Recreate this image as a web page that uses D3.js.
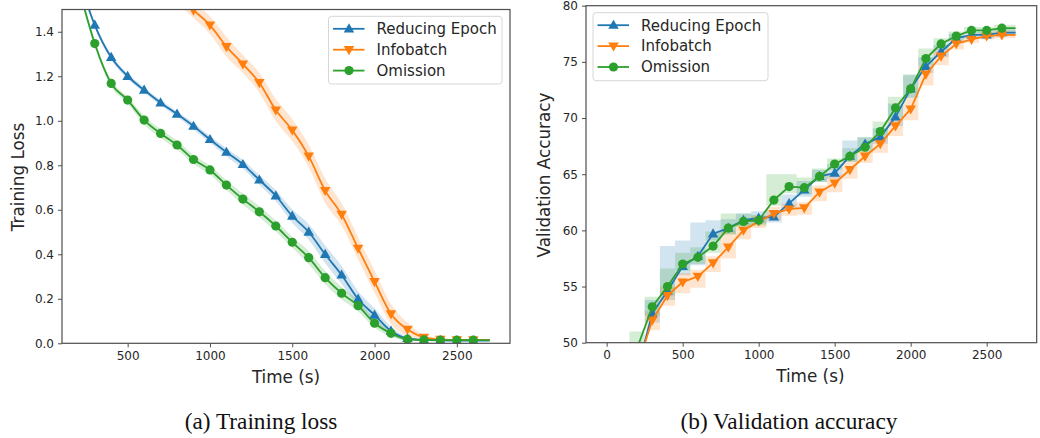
<!DOCTYPE html>
<html><head><meta charset="utf-8">
<script src="https://cdn.jsdelivr.net/npm/d3@7"></script>
<style>body{margin:0;background:#fff}svg{display:block}</style>
</head><body>
<svg id="c" width="1040" height="438"></svg>
<script>
// ---------- Data ----------
const seriesNames = ["Reducing Epoch", "Infobatch", "Omission"];
const seriesColors = ["#1f77b4", "#ff7f0e", "#2ca02c"];

// Training loss
const lossTimes = [220,300,400,500,600,700,800,900,1000,1100,1200,1300,1400,1500,1600,1700,1800,1900,2000,2100,2200,2300,2400,2500,2600,2700];
const lossReducing = [1.60,1.43,1.285,1.20,1.138,1.081,1.030,0.976,0.916,0.859,0.804,0.734,0.663,0.572,0.500,0.400,0.307,0.199,0.127,0.055,0.022,0.015,0.013,0.012,0.012,0.012];
const lossInfobatch = [2.25,2.10,1.96,1.84,1.74,1.65,1.57,1.497,1.43,1.333,1.255,1.171,1.048,0.958,0.841,0.686,0.579,0.427,0.277,0.132,0.063,0.027,0.018,0.015,0.015,0.015];
const lossOmission = [1.55,1.347,1.168,1.093,1.003,0.943,0.891,0.826,0.779,0.711,0.648,0.591,0.527,0.454,0.385,0.295,0.225,0.169,0.090,0.045,0.018,0.015,0.014,0.014,0.014,0.014];
const lossStdReducing = [0.01,0.01,0.012,0.012,0.012,0.012,0.012,0.015,0.015,0.018,0.02,0.022,0.025,0.03,0.035,0.04,0.04,0.035,0.03,0.02,0.008,0.004,0.003,0.003,0.003,0.003];
const lossStdInfobatch = [0.04,0.04,0.04,0.04,0.04,0.04,0.04,0.035,0.04,0.045,0.04,0.045,0.05,0.05,0.05,0.055,0.05,0.05,0.05,0.045,0.03,0.01,0.005,0.004,0.004,0.004];
const lossStdOmission = [0.015,0.015,0.015,0.015,0.02,0.02,0.02,0.02,0.02,0.022,0.025,0.025,0.025,0.025,0.03,0.03,0.028,0.025,0.02,0.015,0.006,0.004,0.003,0.003,0.003,0.003];

// Validation accuracy
const accTimes = [0,100,200,300,400,500,600,700,800,900,1000,1100,1200,1300,1400,1500,1600,1700,1800,1900,2000,2100,2200,2300,2400,2500,2600,2690];
const accReducing = [10,35,47.5,52.6,54.6,56.8,57.7,59.7,60.2,60.9,61.1,61.2,62.4,63.6,64.8,65.1,66.6,67.7,68.3,70.1,72.6,74.6,75.9,77.1,77.4,77.4,77.6,77.6];
const accInfobatch = [10,34,47.8,52.0,54.2,55.4,55.9,57.1,58.5,60.0,60.8,61.5,61.9,62.0,63.4,64.2,65.4,66.6,67.7,69.3,70.8,73.9,75.5,76.6,77.0,77.3,77.4,77.4];
const accOmission = [10,36,49.5,53.2,55.0,57.0,57.6,58.6,60.2,60.8,60.9,62.7,63.9,63.8,64.8,65.9,66.6,67.4,68.8,70.9,72.6,75.3,76.6,77.3,77.8,77.8,78.0,78.0];
const accUpReducing = [1,1,1.5,1.2,4.0,2.3,3.0,1.2,0.8,0.6,0.6,0.6,0.8,0.8,0.6,0.8,1.4,0.6,0.8,1.2,1.2,0.8,0.6,0.4,0.3,0.3,0.3,0.3];
const accDownReducing = [1,1,1.5,0.8,0.8,0.8,0.8,0.6,0.5,0.5,0.5,0.5,0.5,0.6,0.5,0.5,0.5,0.5,0.6,0.8,0.8,0.6,0.5,0.3,0.3,0.3,0.3,0.3];
const accUpInfobatch = [1,1,1.5,0.8,0.8,0.8,0.6,0.6,1.5,0.6,0.5,0.6,0.5,0.5,0.6,0.8,0.8,0.6,0.6,0.8,1.0,0.8,0.6,0.4,0.3,0.3,0.3,0.3];
const accDownInfobatch = [1,1,1.5,0.9,0.9,1.0,1.0,0.8,1.0,0.8,0.6,0.6,0.6,0.6,0.8,0.8,0.8,0.6,0.8,0.9,1.0,1.0,0.8,0.5,0.3,0.3,0.3,0.3];
const accUpOmission = [1,1,1.5,0.9,1.6,1.0,0.9,1.3,1.3,0.7,0.5,2.3,1.1,0.9,0.7,0.5,0.7,0.9,0.9,1.0,1.3,0.9,0.5,0.4,0.3,0.3,0.3,0.3];
const accDownOmission = [1,1,1.5,0.8,0.8,0.6,0.6,0.6,0.6,0.5,0.5,0.5,0.6,0.6,0.5,0.5,0.5,0.5,0.6,0.8,0.8,0.6,0.5,0.3,0.3,0.3,0.3,0.3];

const lossTicks = [0.0,0.2,0.4,0.6,0.8,1.0,1.2,1.4];
const lossXTicks = [500,1000,1500,2000,2500];
const accTicks = [50,55,60,65,70,75,80];
const accXTicks = [0,500,1000,1500,2000,2500];

// ---------- Drawing ----------
const svg = d3.select("#c");
const FONT = "DejaVu Sans, sans-serif";
const TXT = "#262626";
const SPINE = "#4d4d4d";

function panel(opt) {
  const {xr, yr, xd, yd, id} = opt;
  const x = d3.scaleLinear().domain(xd).range(xr);
  const y = d3.scaleLinear().domain(yd).range(yr);
  const g = svg.append("g");
  g.append("clipPath").attr("id", id).append("rect")
    .attr("x", xr[0]).attr("y", yr[1]).attr("width", xr[1]-xr[0]).attr("height", yr[0]-yr[1]);
  const plot = g.append("g").attr("clip-path", `url(#${id})`);

  opt.series.forEach((s, i) => {
    const pts = opt.times.map((t, k) => ({t, v: s.v[k], lo: s.v[k]-s.dn[k], hi: s.v[k]+s.up[k]}));
    plot.append("path").datum(pts)
      .attr("fill", seriesColors[i]).attr("fill-opacity", 0.2)
      .attr("d", d3.area().curve(opt.bandCurve).x(d => x(d.t)).y0(d => y(d.lo)).y1(d => y(d.hi)));
  });
  opt.series.forEach((s, i) => {
    const pts = opt.times.map((t, k) => ({t, v: s.v[k]}));
    plot.append("path").datum(pts)
      .attr("fill", "none").attr("stroke", seriesColors[i]).attr("stroke-width", 1.8)
      .attr("stroke-linejoin", "round")
      .attr("d", d3.line().curve(opt.lineCurve).x(d => x(d.t)).y(d => y(d.v)));
    const mk = pts.filter(d => d.t % 100 === 0 && d.t >= 300 && d.t <= 2600);
    drawMarkers(plot, mk.map(d => [x(d.t), y(d.v)]), i);
  });

  // spines
  g.append("rect").attr("x", xr[0]).attr("y", yr[1]).attr("width", xr[1]-xr[0]).attr("height", yr[0]-yr[1])
    .attr("fill", "none").attr("stroke", SPINE).attr("stroke-width", 1.2);

  // axes
  const ya = g.append("g").attr("transform", `translate(${xr[0]},0)`)
    .call(d3.axisLeft(y).tickValues(opt.yTicks).tickFormat(opt.yFmt).tickSize(4).tickPadding(4));
  const xa = g.append("g").attr("transform", `translate(0,${yr[0]})`)
    .call(d3.axisBottom(x).tickValues(opt.xTicks).tickFormat(d3.format("d")).tickSize(4).tickPadding(4));
  [ya, xa].forEach(a => {
    a.select(".domain").remove();
    a.selectAll("line").attr("stroke", SPINE).attr("stroke-width", 1);
    a.selectAll("text").attr("font-family", FONT).attr("font-size", 12).attr("fill", TXT);
  });

  // labels
  g.append("text").attr("x", (xr[0]+xr[1])/2 + opt.xlOff).attr("y", opt.xlY).attr("text-anchor", "middle")
    .attr("font-family", FONT).attr("font-size", 16.8).attr("fill", TXT).text("Time (s)");
  g.append("text").attr("transform", `translate(${opt.ylX},${opt.ylY}) rotate(-90)`).attr("text-anchor", "middle")
    .attr("font-family", FONT).attr("font-size", 16.8).attr("fill", TXT).text(opt.ylabel);
  g.append("text").attr("x", opt.capX).attr("y", 429).attr("text-anchor", "middle")
    .attr("font-family", "Liberation Serif, Times New Roman, serif").attr("font-size", 23.3).attr("fill", "#111").text(opt.caption);

  // legend
  const L = opt.legend;
  g.append("rect").attr("x", L.x).attr("y", L.y).attr("width", L.w).attr("height", L.h).attr("rx", 3)
    .attr("fill", "#fff").attr("fill-opacity", 0.8).attr("stroke", "#d6d6d6").attr("stroke-width", 1);
  seriesNames.forEach((n, i) => {
    const cy = L.y + 12.5 + i * 20.9;
    g.append("line").attr("x1", L.x + 4.5).attr("x2", L.x + 36).attr("y1", cy).attr("y2", cy)
      .attr("stroke", seriesColors[i]).attr("stroke-width", 1.8);
    drawMarkers(g, [[L.x + 20.5, cy]], i);
    g.append("text").attr("x", L.x + 48).attr("y", cy + 5.3).attr("font-family", FONT).attr("font-size", 15)
      .attr("fill", TXT).text(n);
  });
}

function drawMarkers(g, pts, i) {
  const c = seriesColors[i];
  pts.forEach(([px, py]) => {
    if (i === 2) {
      g.append("circle").attr("cx", px).attr("cy", py).attr("r", 4.6).attr("fill", c);
    } else {
      const sym = d3.symbol().type(d3.symbolTriangle).size(48)();
      g.append("path").attr("d", sym).attr("fill", c)
        .attr("transform", `translate(${px},${py + (i === 0 ? 0.6 : -0.6)}) rotate(${i === 0 ? 0 : 180})`);
    }
  });
}

panel({
  id: "clipL", xr: [62, 510], yr: [343.3, 9.5], xd: [101, 2823], yd: [0, 1.5],
  times: lossTimes,
  series: [
    {v: lossReducing, up: lossStdReducing, dn: lossStdReducing},
    {v: lossInfobatch, up: lossStdInfobatch, dn: lossStdInfobatch},
    {v: lossOmission, up: lossStdOmission, dn: lossStdOmission}
  ],
  bandCurve: d3.curveMonotoneX, lineCurve: d3.curveMonotoneX,
  yTicks: lossTicks, yFmt: d3.format(".1f"), xTicks: lossXTicks,
  xlOff: 0, xlY: 383, ylX: 24, ylY: 177, ylabel: "Training Loss",
  capX: 261, caption: "(a) Training loss",
  legend: {x: 328.5, y: 16.3, w: 173.5, h: 67.7}
});

panel({
  id: "clipR", xr: [586, 1036.7], yr: [342.7, 5.7], xd: [-136, 2829], yd: [50, 80],
  times: accTimes,
  series: [
    {v: accReducing, up: accUpReducing, dn: accDownReducing},
    {v: accInfobatch, up: accUpInfobatch, dn: accDownInfobatch},
    {v: accOmission, up: accUpOmission, dn: accDownOmission}
  ],
  bandCurve: d3.curveStep, lineCurve: d3.curveLinear,
  yTicks: accTicks, yFmt: d3.format("d"), xTicks: accXTicks,
  xlOff: -1, xlY: 382, ylX: 550, ylY: 175, ylabel: "Validation Accuracy",
  capX: 789, caption: "(b) Validation accuracy",
  legend: {x: 593, y: 12.7, w: 175, h: 68}
});
</script>
</body></html>
